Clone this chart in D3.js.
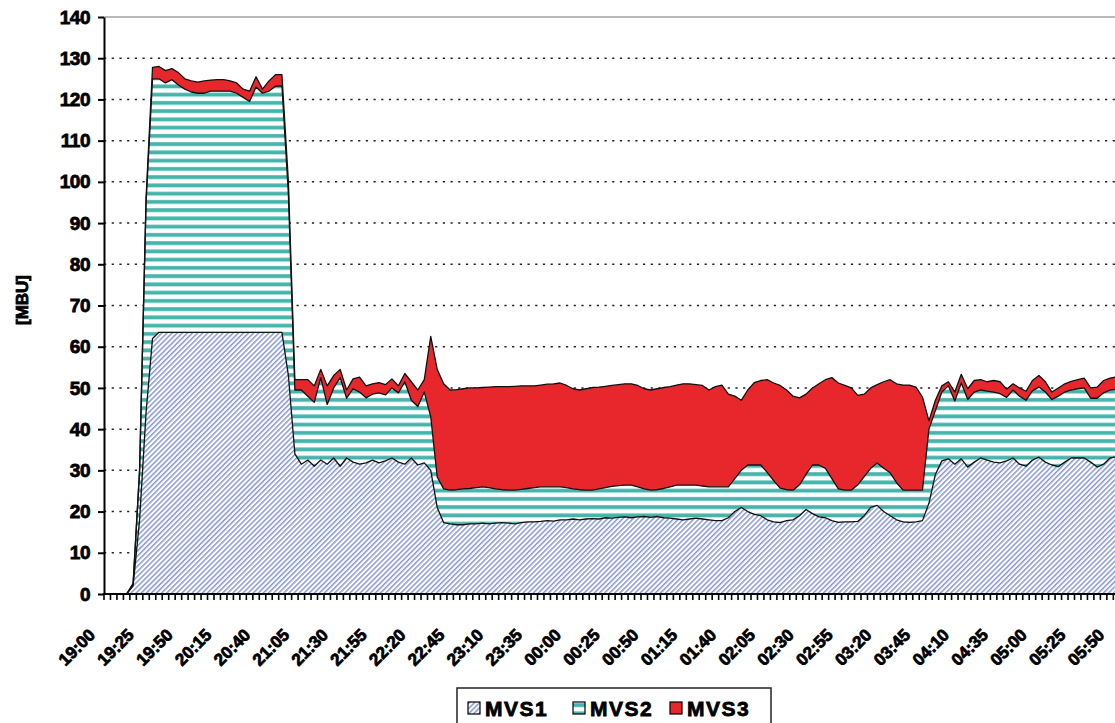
<!DOCTYPE html>
<html>
<head>
<meta charset="utf-8">
<script src="https://d3js.org/d3.v7.min.js"></script>
<style>
	html, body { margin: 0; padding: 0; background: #fff; }
	svg { display: block; }
	text { font-family: "Liberation Sans", Arial, sans-serif; font-weight: bold; fill: #000; }
	.heavy { stroke: #000; stroke-width: 0.8px; paint-order: stroke; }
</style>
</head>
<body>
<div id="chart"></div>
<script>
	'use strict';

	// values per sample
	var mvs1 = [0, 0, 0, 0, 2, 18, 44, 62, 63.5, 63.5,
		63.5, 63.5, 63.5, 63.5, 63.5, 63.5, 63.5, 63.5, 63.5, 63.5,
		63.5, 63.5, 63.5, 63.5, 63.5, 63.5, 63.5, 63.5, 53, 34,
		31.5, 32.5, 31, 32.5, 31.5, 33, 31, 33, 32, 31.5,
		31.8, 32.5, 31.8, 32.3, 33, 32, 31.5, 33, 31.3, 31.8,
		30, 21, 17.3, 17, 16.8, 16.8, 17, 17, 17.2, 17,
		17.2, 17.3, 17.2, 17, 17.3, 17.5, 17.5, 17.6, 17.8, 17.7,
		18, 18, 18.2, 18, 18.2, 18.3, 18.2, 18.5, 18.4, 18.6,
		18.7, 18.5, 18.7, 18.8, 18.6, 18.8, 18.5, 18.4, 18.2, 18,
		18.2, 18.4, 18.2, 18, 17.8, 17.8, 18.5, 20, 21, 20,
		19.3, 19, 18, 17.5, 17.3, 17.8, 18, 19, 20.5, 19.5,
		18.7, 18.5, 17.8, 17.4, 17.5, 17.5, 17.6, 19, 21, 21.5,
		20, 19, 18, 17.5, 17.4, 17.5, 17.8, 22, 29, 32.3,
		32.8, 31.5, 32.8, 30.8, 32, 33, 32.5, 32, 31.8, 32.3,
		33, 31.5, 31, 32.5, 33.2, 32, 31.3, 30.9, 32, 33,
		33, 33, 32, 30.8, 31.5, 33, 33.3, 33];

	var mvs2 = [0, 0, 0, 0, 0.5, 12, 51, 63, 61.5, 60.5,
		61.3, 60, 59, 58.3, 58, 58, 58.5, 58.5, 58.5, 58.5,
		58, 57, 56, 59.5, 58, 58.5, 59.7, 59.8, 44, 15.5,
		18, 15.5, 15.5, 20, 14.5, 17, 21.5, 14.5, 17.8, 17.5,
		15.8, 16, 17, 16, 17, 16.8, 20, 14, 14.2, 17.2,
		13, 7.4, 8.2, 8.2, 8.5, 8.7, 8.6, 8.8, 8.8, 8.8,
		8.3, 8, 8, 8.2, 8.1, 8.1, 8.3, 8.4, 8.2, 8.3,
		8, 7.8, 7.3, 7.3, 7, 6.9, 7.3, 7.3, 7.7, 7.7,
		7.7, 7.9, 7.3, 6.7, 6.6, 6.5, 7.1, 7.6, 8.2, 8.4,
		8.2, 8, 8, 8, 8.2, 8.2, 7.5, 8, 9, 11.3,
		12, 12.3, 11.5, 10, 8.4, 7.5, 7.2, 7.5, 8.5, 11.8,
		12.6, 12, 10.2, 8.1, 7.7, 7.7, 8.9, 9.5, 9.5, 10.3,
		10.5, 10.4, 9, 7.7, 7.8, 7.7, 7.4, 18, 15.5, 16.7,
		17.7, 15.3, 18.4, 16.4, 17, 16.5, 16.7, 17, 16.8, 15.4,
		16.5, 16.5, 16, 16.8, 17, 17, 15.9, 17.1, 17, 16.5,
		16.8, 17, 15.5, 16.7, 17.3, 16.5, 16.4, 16.5];

	var mvs3 = [0, 0, 0, 0, 0, 0, 1, 2.8, 3, 3,
		2.7, 3, 2.5, 2.7, 2.7, 3, 2.7, 2.8, 2.8, 2.5,
		2.5, 2, 2.5, 2.5, 1, 2.5, 2.8, 2.7, 3, 2.5,
		2.5, 4, 4, 2, 4.5, 3, 2, 2, 2.4, 3.6,
		2.9, 2.5, 2.5, 2.5, 2.2, 1.7, 2, 4.5, 4, 3,
		19.5, 26.1, 25.5, 24.3, 24.3, 24.3, 24.4, 24.2, 24.1, 24.4,
		24.8, 25, 25.1, 25.2, 25.1, 24.9, 24.7, 24.7, 24.9, 25,
		25.2, 24.8, 24.3, 24.2, 24.6, 24.9, 24.7, 24.6, 24.5, 24.5,
		24.6, 24.6, 24.6, 24.3, 24.3, 24.5, 24.5, 24.3, 24.3, 24.6,
		24.6, 24.4, 24.4, 23.5, 24.3, 24.7, 22.5, 20, 17, 18.2,
		20, 20.5, 22.5, 23.7, 24.9, 24.2, 22.8, 21.1, 19.5, 18.7,
		19.7, 21.5, 24.5, 25.7, 25.4, 24.8, 21.7, 20, 19.5, 19,
		21, 22.6, 24, 25.5, 25.5, 25, 22.6, 2, 2.5, 1.5,
		1, 2.2, 2.1, 2.6, 2.8, 2.5, 2.3, 2.8, 2.9, 2,
		1.5, 2, 2.2, 2.5, 2.8, 2.5, 1.8, 2, 2, 2.1,
		2.2, 2.4, 2.5, 2.7, 3, 2.9, 3, 3];

	var tickLabels = ["19:00", "19:25", "19:50", "20:15", "20:40", "21:05", "21:30",
		"21:55", "22:20", "22:45", "23:10", "23:35", "00:00", "00:25", "00:50",
		"01:15", "01:40", "02:05", "02:30", "02:55", "03:20", "03:45", "04:10",
		"04:35", "05:00", "05:25", "05:50"];
	var labelEvery = 6;
	var yTicks = [0, 10, 20, 30, 40, 50, 60, 70, 80, 90, 100, 110, 120, 130, 140];
	var seriesNames = ["MVS1", "MVS2", "MVS3"];
	var yTitle = "[MBU]";

	(function () {
		var categories = d3.range(mvs1.length);
		var rows = categories.map(function (c, i) {
			return { cat: c, MVS1: mvs1[i], MVS2: mvs2[i], MVS3: mvs3[i] };
		});

		var W = 1115, H = 723;
		var plotLeft = 104, plotTop = 17, plotBottom = 594;
		var step = 6.47;
		var plotRight = plotLeft + step * categories.length;

		var x = d3.scaleBand().domain(categories)
			.range([plotLeft, plotRight]).padding(0);
		var y = d3.scaleLinear().domain([0, 140]).range([plotBottom, plotTop]);

		var svg = d3.select("#chart").append("svg")
			.attr("width", W)
			.attr("height", H);

		// fills
		var defs = svg.append("defs");
		var hatch = defs.append("pattern")
			.attr("id", "hatch1")
			.attr("patternUnits", "userSpaceOnUse")
			.attr("width", 3.6).attr("height", 3.6)
			.attr("patternTransform", "rotate(-45)");
		hatch.append("rect").attr("width", 3.6).attr("height", 3.6).attr("fill", "#fff");
		hatch.append("rect").attr("width", 3.6).attr("height", 1.5).attr("fill", "#8799d8");

		var stripes = defs.append("pattern")
			.attr("id", "stripe2")
			.attr("patternUnits", "userSpaceOnUse")
			.attr("width", 8).attr("height", 8.25);
		stripes.append("rect").attr("width", 8).attr("height", 8.25).attr("fill", "#fff");
		stripes.append("rect").attr("y", 2).attr("width", 8).attr("height", 3.8).attr("fill", "#45b4ab");

		var fills = { MVS1: "url(#hatch1)", MVS2: "url(#stripe2)", MVS3: "#e8272d" };

		defs.append("clipPath").attr("id", "plotclip")
			.append("rect")
			.attr("x", plotLeft).attr("y", 0)
			.attr("width", plotRight - plotLeft).attr("height", plotBottom);

		// grid lines
		svg.append("g").selectAll("line")
			.data(yTicks.filter(function (v) { return v > 0 && v < 140; }))
			.enter().append("line")
			.attr("x1", plotLeft).attr("x2", plotRight)
			.attr("y1", function (d) { return y(d); })
			.attr("y2", function (d) { return y(d); })
			.attr("stroke", "#222")
			.attr("stroke-width", 1.5)
			.attr("stroke-dasharray", "2.2,5.5");

		svg.append("line")
			.attr("x1", plotLeft).attr("x2", plotRight)
			.attr("y1", y(140)).attr("y2", y(140))
			.attr("stroke", "#777").attr("stroke-width", 1.2);

		// stacked areas
		var stacked = d3.stack().keys(seriesNames)(rows);
		var cx = function (d) { return x(d.data.cat) + x.bandwidth() / 2; };
		var area = d3.area().x(cx)
			.y0(function (d) { return y(d[0]); })
			.y1(function (d) { return y(d[1]); });
		var topLine = d3.line().x(cx).y(function (d) { return y(d[1]); });

		var plot = svg.append("g").attr("clip-path", "url(#plotclip)");
		plot.selectAll(".area")
			.data(stacked)
			.enter().append("path")
			.attr("class", "area")
			.attr("fill", function (d) { return fills[d.key]; })
			.attr("d", area);
		plot.selectAll(".edge")
			.data(stacked)
			.enter().append("path")
			.attr("class", "edge")
			.attr("fill", "none")
			.attr("stroke", "#111")
			.attr("stroke-width", 1.3)
			.attr("stroke-linejoin", "round")
			.attr("d", topLine);

		// Y axis
		var yAxis = svg.append("g")
			.attr("transform", "translate(" + plotLeft + ",0)")
			.call(d3.axisLeft(y).tickValues(yTicks).tickSize(6).tickPadding(8).tickSizeOuter(0));
		yAxis.select(".domain").attr("stroke", "#000").attr("stroke-width", 2);
		yAxis.selectAll(".tick line").attr("stroke", "#000").attr("stroke-width", 2);
		yAxis.selectAll(".tick text")
			.attr("class", "heavy")
			.style("font-size", "19px")
			.style("font-family", "'Liberation Sans', Arial, sans-serif")
			.style("font-weight", "bold")
			.style("letter-spacing", "-0.5px");

		svg.append("text")
			.attr("class", "heavy")
			.attr("transform", "translate(28,300) rotate(-90)")
			.attr("text-anchor", "middle")
			.style("font-size", "17px")
			.text(yTitle);

		// X axis
		var xAxis = svg.append("g");
		xAxis.selectAll("line")
			.data(categories.concat([categories.length]))
			.enter().append("line")
			.attr("x1", function (d) { return plotLeft + d * x.step(); })
			.attr("x2", function (d) { return plotLeft + d * x.step(); })
			.attr("y1", plotBottom).attr("y2", plotBottom + 6)
			.attr("stroke", "#000").attr("stroke-width", 1.6);
		xAxis.append("line")
			.attr("x1", plotLeft - 1).attr("x2", plotRight)
			.attr("y1", plotBottom).attr("y2", plotBottom)
			.attr("stroke", "#000").attr("stroke-width", 2);

		xAxis.selectAll("text")
			.data(tickLabels)
			.enter().append("text")
			.attr("class", "heavy")
			.attr("text-anchor", "end")
			.style("font-size", "17px")
			.attr("transform", function (d, i) {
				var c = x(categories[i * labelEvery]) + x.bandwidth() / 2;
				return "translate(" + (c - 11) + "," + 636 + ") rotate(-45)";
			})
			.text(function (d) { return d; });

		// legend
		var legend = svg.append("g");
		legend.append("rect")
			.attr("x", 457).attr("y", 688)
			.attr("width", 314).attr("height", 45)
			.attr("fill", "#fff").attr("stroke", "#222").attr("stroke-width", 1.5);
		var legendX = [468, 573, 670];
		seriesNames.forEach(function (name, i) {
			legend.append("rect")
				.attr("x", legendX[i]).attr("y", 702)
				.attr("width", 12).attr("height", 12)
				.attr("fill", fills[name])
				.attr("stroke", "#000").attr("stroke-width", 1.2);
			legend.append("text")
				.attr("class", "heavy")
				.attr("x", legendX[i] + 17).attr("y", 716)
				.style("font-size", "21px")
				.style("letter-spacing", "1.5px")
				.text(name);
		});
	})();
</script>
</body>
</html>
